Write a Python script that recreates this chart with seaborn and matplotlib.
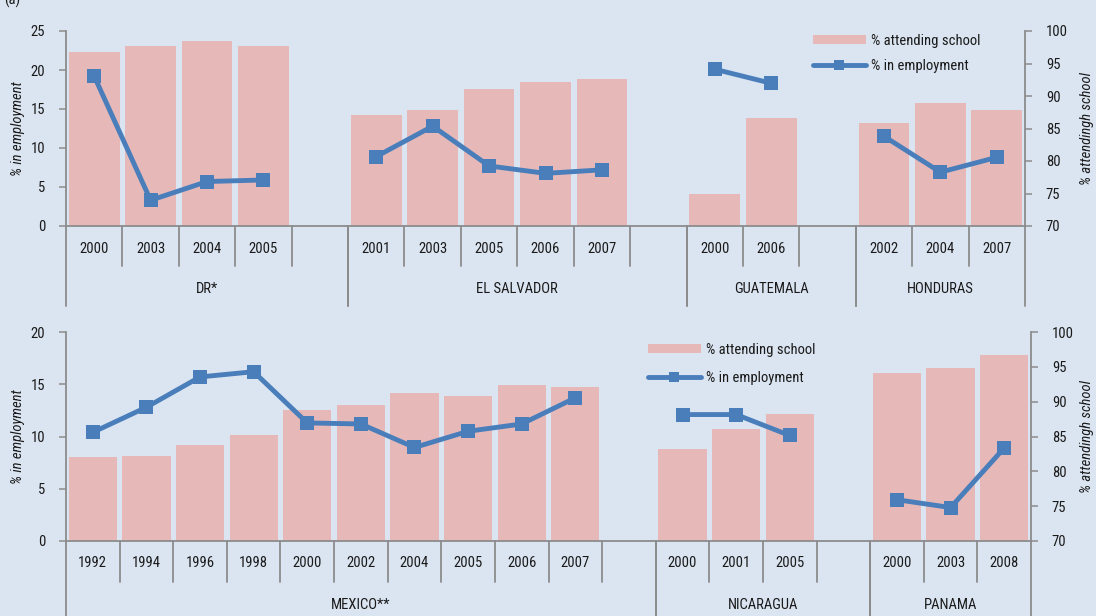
import numpy as np
import pandas as pd
import matplotlib
matplotlib.use("Agg")
import matplotlib.pyplot as plt
import seaborn as sns
from matplotlib import font_manager, transforms
from matplotlib.patches import Rectangle
from matplotlib.lines import Line2D

# ---------------- data ----------------
top_groups = ["DR*", "EL SALVADOR", "GUATEMALA", "HONDURAS"]
top_years = [["2000", "2003", "2004", "2005"],
             ["2001", "2003", "2005", "2006", "2007"],
             ["2000", "2006"],
             ["2002", "2004", "2007"]]
top_school = [[96.7, 97.7, 98.4, 97.7],
              [87.1, 87.85, 91.1, 92.15, 92.6],
              [74.9, 86.6],
              [85.9, 88.9, 87.9]]
top_employ = [[19.2, 3.3, 5.7, 5.9],
              [8.9, 12.8, 7.7, 6.75, 7.2],
              [20.1, 18.3],
              [11.5, 6.9, 8.8]]

bot_groups = ["MEXICO**", "NICARAGUA", "PANAMA"]
bot_years = [["1992", "1994", "1996", "1998", "2000", "2002", "2004", "2005", "2006", "2007"],
             ["2000", "2001", "2005"],
             ["2000", "2003", "2008"]]
bot_school = [[82.0, 82.25, 83.8, 85.2, 88.8, 89.5, 91.2, 90.8, 92.4, 92.1],
              [83.2, 86.1, 88.2],
              [94.1, 94.8, 96.7]]
bot_employ = [[10.4, 12.8, 15.7, 16.2, 11.3, 11.2, 8.95, 10.5, 11.2, 13.7],
              [12.1, 12.1, 10.1],
              [3.95, 3.2, 8.9]]

school_label = "% attending school"
employ_label = "% in employment"
left_axis_label = "% in employment"
right_axis_label = "% attendingh school"

# ---------------- style ----------------
BG = "#DBE5F1"
BAR = "#E6B9B8"
LINE = "#4A7EBB"
GRAY = "#8C8C8C"
TXT = "#1A1A1A"

sns.set_style("white")
names = {f.name for f in font_manager.fontManager.ttflist}
fam, FS = "Liberation Sans", 10
for cand, size in [("Liberation Sans Narrow", 11), ("Roboto Condensed", 10.5),
                   ("Open Sans Condensed", 10.5), ("DejaVu Sans Condensed", 10),
                   ("Noto Sans Condensed", 10.5)]:
    if cand in names:
        fam, FS = cand, size
        break
plt.rcParams["font.family"] = [fam, "DejaVu Sans"]
plt.rcParams["text.color"] = TXT
plt.rcParams["axes.labelcolor"] = TXT
plt.rcParams["xtick.color"] = TXT
plt.rcParams["ytick.color"] = TXT

W, H = 1096, 616
fig = plt.figure(figsize=(W / 100, H / 100), dpi=100, facecolor=BG)


def px_box(l, r, top, bottom):
    return [l / W, 1 - bottom / H, (r - l) / W, (bottom - top) / H]


def draw_panel(rect, groups, years, school, employ, emp_max, emp_step,
               year_dy, group_dy, short_len, long_len, leg_xy, leg_spacing,
               ylab_left_px, ylab_right_px):
    ax = fig.add_axes(rect)
    axr = ax.twinx()
    ax.set_zorder(axr.get_zorder() + 1)
    ax.patch.set_visible(False)
    axr.set_facecolor(BG)

    rows, order, spans = [], [], []
    for gi, (g, ys, sc, em) in enumerate(zip(groups, years, school, employ)):
        start = len(order)
        for y, s, e in zip(ys, sc, em):
            key = f"{g}|{y}"
            order.append(key)
            rows.append(dict(slot=key, school=s, employ=e, group=g,
                             pos=len(order) - 1, year=y))
        blank = 1 if gi < len(groups) - 1 else 0
        if blank:
            order.append(f"{g}|")
        spans.append((start, len(ys), blank, g))
    df = pd.DataFrame(rows)
    n = len(order)

    sns.barplot(data=df, x="slot", y="school", order=order, ax=axr,
                color=BAR, saturation=1, width=0.9, errorbar=None,
                linewidth=0)
    for g in groups:
        sub = df[df.group == g]
        sns.lineplot(data=sub, x="pos", y="employ", ax=ax, color=LINE,
                     linewidth=3.5, marker="s", markersize=10,
                     markeredgewidth=0, sort=False, legend=False,
                     errorbar=None)

    ax.set_xlim(-0.5, n - 0.5)
    ax.set_xticks([])
    axr.set_xticks([])
    ax.set_xlabel("")
    axr.set_xlabel("")

    ax.set_ylim(0, emp_max)
    ax.set_yticks(np.arange(0, emp_max + 0.1, emp_step))
    axr.set_ylim(70, 100)
    axr.set_yticks(np.arange(70, 101, 5))

    for a in (ax, axr):
        for s in a.spines.values():
            s.set_visible(False)
    ax.spines["left"].set_visible(True)
    ax.spines["bottom"].set_visible(True)
    axr.spines["right"].set_visible(True)
    for s in (ax.spines["left"], ax.spines["bottom"], axr.spines["right"]):
        s.set_color(GRAY)
        s.set_linewidth(1.3)

    ax.tick_params(axis="y", direction="out", length=5, width=1.1,
                   color=GRAY, pad=10, labelsize=FS)
    axr.tick_params(axis="y", direction="out", length=5, width=1.1,
                    color=GRAY, pad=10, labelsize=FS)

    ax_w_px = rect[2] * W
    ax_h_px = rect[3] * H
    ax.set_ylabel(left_axis_label, fontsize=FS, fontstyle="italic")
    axr.set_ylabel(right_axis_label, fontsize=FS, fontstyle="italic",
                   rotation=90)
    ax.yaxis.set_label_coords(ylab_left_px / ax_w_px, 0.5)
    axr.yaxis.set_label_coords(ylab_right_px / ax_w_px, 0.5)

    trans = transforms.blended_transform_factory(ax.transData, ax.transAxes)
    sl = -short_len / ax_h_px
    ll = -long_len / ax_h_px
    for start, k, blank, g in spans:
        end = start + k + blank
        ax.plot([start - 0.5, start - 0.5], [0, ll], transform=trans,
                clip_on=False, color=GRAY, lw=1.3)
        for i in range(k):
            xb = start + i + 0.5
            if abs(xb - (end - 0.5)) > 1e-9:
                ax.plot([xb, xb], [0, sl], transform=trans, clip_on=False,
                        color=GRAY, lw=1.3)
        ax.plot([end - 0.5, end - 0.5], [0, ll], transform=trans,
                clip_on=False, color=GRAY, lw=1.3)
        ax.text((start - 0.5 + end - 0.5) / 2, -group_dy / ax_h_px, g,
                transform=trans, ha="center", va="center", fontsize=FS)
    for _, r in df.iterrows():
        ax.text(r["pos"], -year_dy / ax_h_px, r["year"], transform=trans,
                ha="center", va="center", fontsize=FS)

    handles = [Rectangle((0, 0), 1, 1, facecolor=BAR, edgecolor="none"),
               Line2D([0], [0], color=LINE, lw=3.5, marker="s", markersize=7,
                      markeredgewidth=0, solid_capstyle="round")]
    fig.legend(handles, [school_label, employ_label], loc="upper left",
               bbox_to_anchor=(leg_xy[0] / W, 1 - leg_xy[1] / H),
               frameon=False, fontsize=FS, borderpad=0, borderaxespad=0,
               handlelength=3.6, handletextpad=0.4,
               labelspacing=leg_spacing, handleheight=0.55)
    return ax, axr


draw_panel(px_box(66, 1025, 31, 226), top_groups, top_years, top_school,
           top_employ, 25, 5, year_dy=23, group_dy=63, short_len=40,
           long_len=80, leg_xy=(813, 34), leg_spacing=0.75,
           ylab_left_px=25 - 66, ylab_right_px=1080 - 66)
draw_panel(px_box(66, 1031, 332, 541), bot_groups, bot_years, bot_school,
           bot_employ, 20, 5, year_dy=22, group_dy=64, short_len=41,
           long_len=90, leg_xy=(648, 343), leg_spacing=0.95,
           ylab_left_px=25 - 66, ylab_right_px=1080 - 66)

fig.text(0.004, 1.0, "(a)", ha="left", va="center", fontsize=FS)

fig.savefig("out.png", dpi=100, facecolor=BG)
